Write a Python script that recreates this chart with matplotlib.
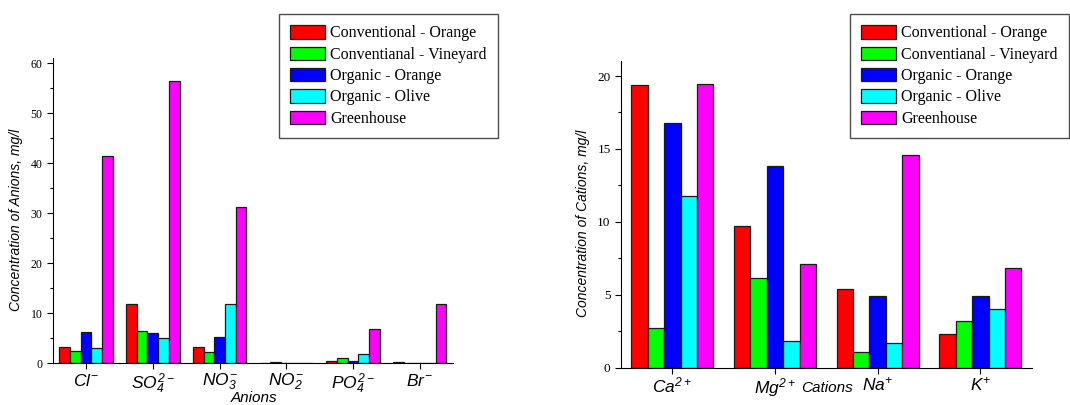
import numpy as np
import matplotlib
matplotlib.use('Agg')
import matplotlib.pyplot as plt

plt.rcParams['mathtext.fontset'] = 'custom'
plt.rcParams['mathtext.it'] = 'Liberation Sans:italic'
plt.rcParams['mathtext.rm'] = 'Liberation Sans:italic'
plt.rcParams['mathtext.default'] = 'it'

series = ['Conventional - Orange', 'Conventianal - Vineyard', 'Organic - Orange',
          'Organic - Olive', 'Greenhouse']
colors = ['#ff0000', '#00ff00', '#0000ff', '#00ffff', '#ff00ff']

# anions (mg/l)
anions = [r'$Cl^{-}$', r'$SO_4^{2-}$', r'$NO_3^{-}$', r'$NO_2^{-}$', r'$PO_4^{2-}$', r'$Br^{-}$']
an_conv_orange = [3.2, 11.9, 3.2, 0.1, 0.5, 0.2]
an_conv_vineyard = [2.5, 6.4, 2.3, 0.2, 1.1, 0.0]
an_org_orange = [6.3, 6.1, 5.2, 0.1, 0.4, 0.0]
an_org_olive = [3.1, 5.1, 11.8, 0.1, 1.8, 0.0]
an_greenhouse = [41.5, 56.4, 31.2, 0.15, 6.8, 11.8]

# cations (mg/l)
cations = [r'$Ca^{2+}$', r'$Mg^{2+}$', r'$Na^{+}$', r'$K^{+}$']
cat_conv_orange = [19.4, 9.75, 5.37, 2.28]
cat_conv_vineyard = [2.7, 6.12, 1.07, 3.22]
cat_org_orange = [16.76, 13.86, 4.89, 4.89]
cat_org_olive = [11.78, 1.85, 1.67, 4.0]
cat_greenhouse = [19.45, 7.08, 14.61, 6.83]

sans = 'Liberation Sans'
serif = 'Liberation Serif'

fig = plt.figure(figsize=[10.7, 4.05], dpi=100)
ax1 = fig.add_axes([0.0493, 0.1030, 0.3741, 0.7530])
ax2 = fig.add_axes([0.5804, 0.0921, 0.3838, 0.7580])


def draw_bars(ax, labels, data, ymax, major, minor, tickfs):
    x = np.arange(len(labels))
    w = 0.16
    for j, vals in enumerate(data):
        ax.bar(x + (j - 2) * w, vals, w, color=colors[j], edgecolor='#1a1a1a',
               linewidth=0.9, label=series[j])
    ax.set_xlim(-0.5, len(labels) - 0.5)
    ax.set_ylim(0, ymax)
    ax.set_xticks(x)
    ax.set_xticklabels(labels, fontsize=12.5)
    ax.set_yticks(np.arange(0, ymax, major))
    ax.set_yticks(np.arange(0, ymax, minor), minor=True)
    for t in ax.get_yticklabels():
        t.set_fontfamily(serif)
        t.set_fontsize(tickfs)
    ax.spines['top'].set_visible(False)
    ax.spines['right'].set_visible(False)
    ax.tick_params(axis='both', which='major', direction='out', length=4, width=0.8)
    ax.tick_params(axis='y', which='minor', direction='out', length=2.5, width=0.8)
    ax.tick_params(axis='x', pad=2)


draw_bars(ax1, anions, [an_conv_orange, an_conv_vineyard, an_org_orange, an_org_olive,
                        an_greenhouse], 61, 10, 5, 8.5)
draw_bars(ax2, cations, [cat_conv_orange, cat_conv_vineyard, cat_org_orange, cat_org_olive,
                         cat_greenhouse], 21.05, 5, 2.5, 9.5)

ax1.set_ylabel('Concentration of Anions, mg/l', fontsize=10, fontfamily=sans, fontstyle='italic')
ax1.yaxis.set_label_coords(-0.075, 0.47)
ax2.set_ylabel('Concentration of Cations, mg/l', fontsize=10, fontfamily=sans, fontstyle='italic')
ax2.yaxis.set_label_coords(-0.075, 0.47)

fig.text(254 / 1070, 1 - 391 / 405, 'Anions', ha='center', va='top', fontsize=11,
         fontfamily=sans, fontstyle='italic')
fig.text(826.7 / 1070, 1 - 388 / 405, 'Cations', ha='center', va='center', fontsize=11,
         fontfamily=sans, fontstyle='italic')

for ax, x0 in [(ax1, 279), (ax2, 850)]:
    leg = ax.legend(loc='upper left', bbox_to_anchor=(x0 / 1070, 1 - 14 / 405),
                    bbox_transform=fig.transFigure, borderaxespad=0, fancybox=False,
                    prop={'family': serif, 'size': 11.5}, handlelength=2.2, handleheight=0.92,
                    handletextpad=0.3, labelspacing=0.32, borderpad=0.7)
    leg.get_frame().set_edgecolor('#222222')
    leg.get_frame().set_linewidth(1.0)

fig.savefig('out.png', dpi=100)
